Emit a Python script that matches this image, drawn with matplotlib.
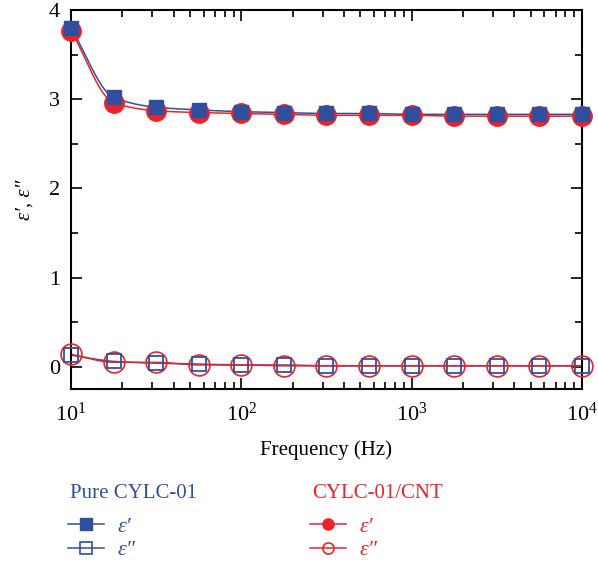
import numpy as np
import matplotlib
matplotlib.use("Agg")
import matplotlib.pyplot as plt
from matplotlib.lines import Line2D
from matplotlib.ticker import LogLocator, MultipleLocator, FixedLocator

plt.rcParams['font.family'] = ['Liberation Serif', 'DejaVu Serif']
plt.rcParams['mathtext.fontset'] = 'custom'
plt.rcParams['mathtext.rm'] = 'Liberation Serif'
plt.rcParams['mathtext.it'] = 'Liberation Serif:italic'

# Data
freq = [10, 17.8, 31.6, 56.2, 100, 178, 316, 562, 1000, 1780, 3160, 5620, 10000]
pure_eps1 = [3.80, 3.02, 2.91, 2.88, 2.86, 2.85, 2.84, 2.84, 2.83, 2.83, 2.83, 2.83, 2.83]
cnt_eps1 = [3.77, 2.96, 2.87, 2.85, 2.84, 2.83, 2.82, 2.82, 2.82, 2.81, 2.81, 2.81, 2.81]
pure_eps2 = [0.13, 0.06, 0.04, 0.03, 0.02, 0.02, 0.01, 0.01, 0.01, 0.01, 0.01, 0.01, 0.01]
cnt_eps2 = [0.14, 0.05, 0.05, 0.02, 0.02, 0.01, 0.01, 0.01, 0.01, 0.01, 0.01, 0.01, 0.01]
xtick_labels = [r'$10^{1}$', r'$10^{2}$', r'$10^{3}$', r'$10^{4}$']

BLUE = '#2F4F9F'
RED = '#EE2226'


def pchip(x, y, xn):
    x = np.asarray(x, float); y = np.asarray(y, float)
    h = np.diff(x); d = np.diff(y) / h
    m = np.zeros_like(y)
    for k in range(1, len(x) - 1):
        if d[k - 1] * d[k] > 0:
            w1 = 2 * h[k] + h[k - 1]; w2 = h[k] + 2 * h[k - 1]
            m[k] = (w1 + w2) / (w1 / d[k - 1] + w2 / d[k])
    m[0] = d[0]; m[-1] = d[-1]
    idx = np.clip(np.searchsorted(x, xn) - 1, 0, len(h) - 1)
    t = (xn - x[idx]) / h[idx]
    h00 = 2 * t**3 - 3 * t**2 + 1; h10 = t**3 - 2 * t**2 + t
    h01 = -2 * t**3 + 3 * t**2; h11 = t**3 - t**2
    return h00 * y[idx] + h10 * h[idx] * m[idx] + h01 * y[idx + 1] + h11 * h[idx] * m[idx + 1]


fig = plt.figure(figsize=(5.98, 5.69), dpi=100)
ax = fig.add_axes([0.1187, 0.3163, 0.8545, 0.6661])

lx = np.log10(freq)
xs = np.linspace(lx[0], lx[-1], 400)

for yv, col in [(pure_eps1, BLUE), (cnt_eps1, RED), (pure_eps2, BLUE), (cnt_eps2, RED)]:
    ax.plot(10**xs, pchip(lx, yv, xs), color=col, lw=1.1, zorder=2)

ax.plot(freq, cnt_eps1, 'o', color=RED, ms=14, zorder=3, clip_on=False)
ax.plot(freq, pure_eps1, 's', color=BLUE, ms=10, zorder=4, clip_on=False)
ax.plot(freq, cnt_eps2, 'o', mfc='none', mec=RED, mew=1.2, ms=15, zorder=3, clip_on=False)
ax.plot(freq, pure_eps2, 's', mfc='none', mec=BLUE, mew=1.3, ms=10, zorder=4, clip_on=False)

ax.set_xscale('log')
ax.set_xlim(10, 10000)
ax.set_ylim(-0.25, 4)
ax.xaxis.set_major_locator(FixedLocator([10, 100, 1000, 10000]))
ax.xaxis.set_minor_locator(LogLocator(base=10, subs=np.arange(2, 10)))
ax.set_xticklabels(xtick_labels)
ax.yaxis.set_major_locator(FixedLocator([0, 1, 2, 3, 4]))
ax.yaxis.set_minor_locator(MultipleLocator(0.5))

ax.tick_params(which='both', direction='in', top=True, right=True, labelsize=16, width=1.2)
ax.tick_params(which='major', length=8, pad=8)
ax.tick_params(which='minor', length=5)
ax.tick_params(axis='x', which='major', pad=10)
for s in ax.spines.values():
    s.set_linewidth(1.5)

ax.set_xlabel('Frequency (Hz)', fontsize=15, labelpad=10)
ax.set_ylabel('ε′, ε″', fontsize=15, style='italic', labelpad=10)

# Legends
h_b1 = Line2D([], [], color=BLUE, marker='s', ms=9, lw=1.1)
h_b2 = Line2D([], [], color=BLUE, marker='s', ms=9, mfc='none', mew=1.2, lw=1.1)
h_r1 = Line2D([], [], color=RED, marker='o', ms=8, lw=1.1)
h_r2 = Line2D([], [], color=RED, marker='o', ms=8, mfc='none', mew=1.2, lw=1.1)

for handles, title, col, xa in [([h_b1, h_b2], 'Pure CYLC-01', BLUE, 70 / 598),
                                ([h_r1, h_r2], 'CYLC-01/CNT', RED, 312 / 598)]:
    fig.text(xa, 1 - 493 / 569, title, color=col, fontsize=15, va='center', ha='left')
    leg = fig.legend(handles, ['ε′', 'ε″'], loc='upper left',
                     bbox_to_anchor=(xa - 0.003, 1 - 516 / 569), frameon=False, fontsize=16,
                     handlelength=1.6, handletextpad=0.6, labelspacing=0.15,
                     borderaxespad=0, borderpad=0)
    for t in leg.get_texts():
        t.set_color(col)
        t.set_style('italic')

fig.savefig('out.png', dpi=100)
